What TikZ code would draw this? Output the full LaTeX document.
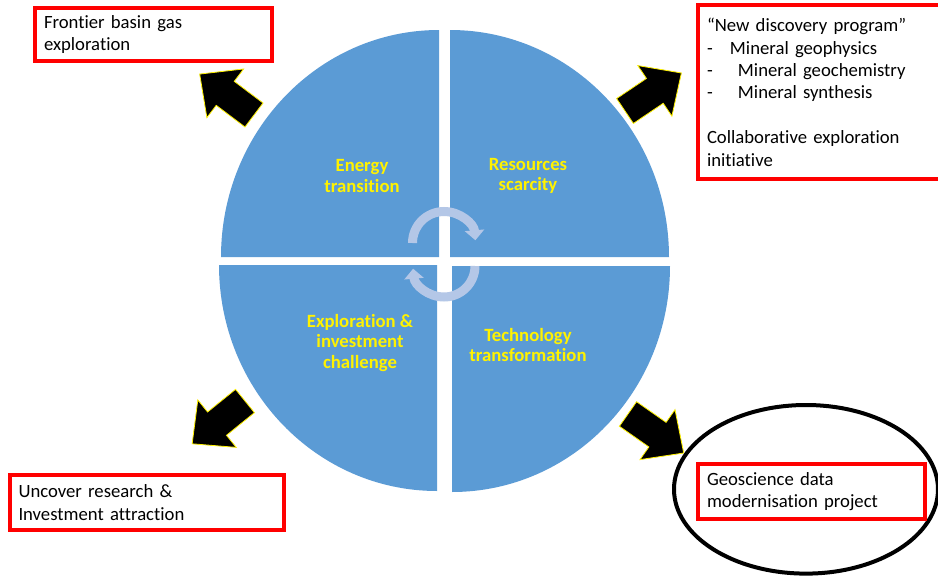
\documentclass[tikz,border=0pt]{standalone}
\usepackage{fontspec}
\setmainfont{Carlito}[Ligatures={NoCommon,NoDiscretionary}]
\usetikzlibrary{arrows.meta}
\definecolor{quadblue}{HTML}{5B9BD5}
\definecolor{cycblue}{HTML}{B4C7E7}
\begin{document}
\begin{tikzpicture}[x=1pt,y=-1pt,
    quad/.style={fill=quadblue},
    lbl/.style={text=yellow,align=center,font=\fontsize{18.7}{20.5}\selectfont\bfseries},
    redbox/.style={draw=red,line width=4pt,anchor=north west,outer sep=0pt,inner xsep=9pt,inner ysep=0pt,align=left,font=\fontsize{18.7}{22.4}\selectfont},
    cyc/.style={draw=cycblue,line width=9pt,-{Triangle[width=19pt,length=10pt]}},
    blk/.style={fill=black,draw=yellow,line width=0.8pt}]
    \clip (0,0) rectangle (938,576);
    \fill[white] (0,0) rectangle (938,576);
    %ellipse
    \draw[line width=4pt] (806,489.3) ellipse[x radius=132,y radius=84.3];
    %quarters
    \fill[quad] (439,257) -- (221,257) arc[start angle=180,end angle=270,x radius=218,y radius=227] -- cycle;
    \fill[quad] (450,257) -- (450,30) arc[start angle=270,end angle=360,x radius=219,y radius=227] -- cycle;
    \fill[quad] (452,266) -- (670,266) arc[start angle=0,end angle=90,x radius=218,y radius=226] -- cycle;
    \fill[quad] (437,265) -- (437,491) arc[start angle=90,end angle=180,x radius=218,y radius=226] -- cycle;
    %cycle
    \draw[cyc] (444,243) ++(180:31.5) arc[start angle=180,end angle=355,radius=31.5];
    \draw[cyc] (444,266) ++(0:31) arc[start angle=0,end angle=175,radius=31];
    %block arrows
    \foreach \x/\y/\a in {254/115/143, 625/111/34, 245/401/219, 628/414/-35}
        \filldraw[blk,shift={(\x,\y)},rotate=\a] (0,-15) -- (36,-15) -- (36,-30.5) -- (68,0) -- (36,30.5) -- (36,15) -- (0,15) -- cycle;
    %labels
    \node[lbl] (energy) at (362,176) {Energy\\transition};
    \node[lbl] (resources) at (528,176) {Resources\\scarcity};
    \node[lbl] (explore) at (360,343) {Exploration \&\\investment\\challenge};
    \node[lbl] (techno) at (528,345) {Technology\\transformation};
    %boxes
    \node[redbox,minimum width=236.5,minimum height=53,text width=218.5] (frontier) at (35,8) {Frontier basin gas\\exploration};
    \node[redbox,minimum width=262,minimum height=174,text width=244] (discovery) at (698,5.3)
        {“New discovery program”\\\makebox[23pt][l]{-}Mineral geophysics\\\makebox[31pt][l]{-}Mineral geochemistry\\\makebox[31pt][l]{-}Mineral synthesis\\[22.4pt]Collaborative exploration\\initiative};
    \node[redbox,minimum width=274.5,minimum height=55,text width=256.5] (uncover) at (9.5,475) {Uncover research \&\\Investment attraction};
    \node[redbox,minimum width=227,minimum height=55,text width=209] (geodata) at (698,464) {Geoscience data\\modernisation project};
\end{tikzpicture}
\end{document}
